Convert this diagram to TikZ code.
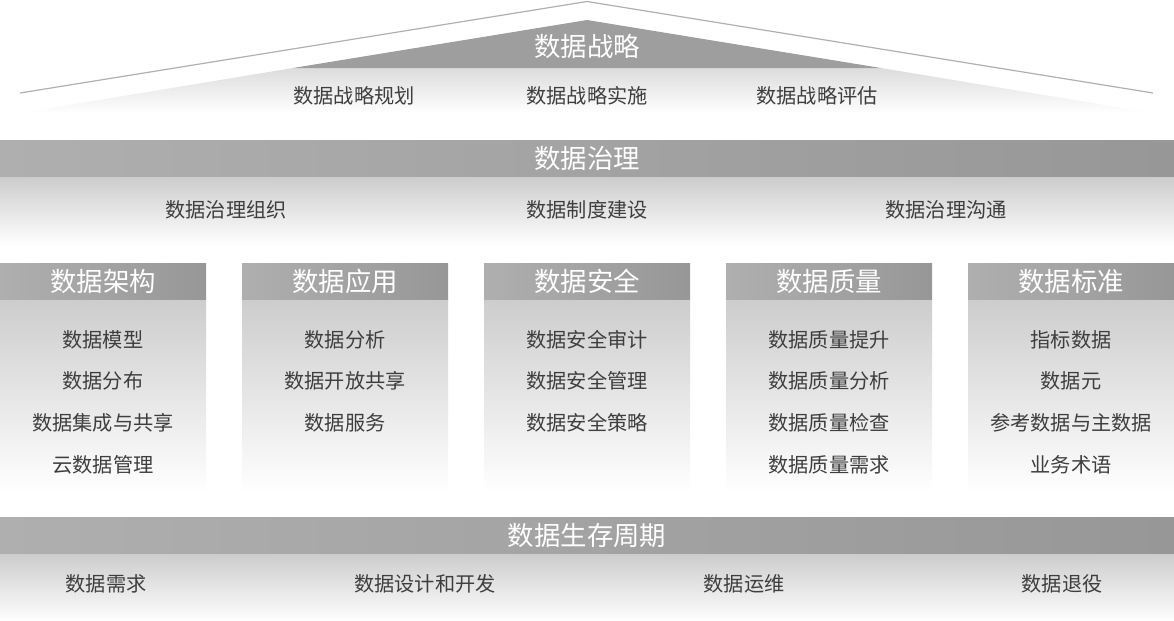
\documentclass[tikz,border=0pt]{standalone}
\usepackage{fontspec}
\setmainfont{Noto Sans CJK SC}
\usepackage{xcolor}
\usetikzlibrary{positioning}
\definecolor{barL}{HTML}{AFAFAF}
\definecolor{barR}{HTML}{979797}
\definecolor{roofgray}{HTML}{9E9E9E}
\definecolor{fadetop}{HTML}{CDCDCD}
\definecolor{rooffade}{HTML}{DCDCDC}
\definecolor{itemgray}{HTML}{3E3E3E}
\definecolor{linegray}{HTML}{B0B0B0}

\tikzset{
  headbar/.style={rectangle, inner sep=0pt, minimum height=18.5pt, left color=barL, right color=barR, text=white, font=\fontsize{13.2}{15}\selectfont},
  fadebox/.style={rectangle, inner sep=0pt, top color=fadetop, bottom color=white},
  itemtext/.style={text=itemgray, inner sep=0pt, font=\fontsize{10.1}{12}\selectfont},
}

\begin{document}
\begin{tikzpicture}[x=0.5pt, y=-0.5pt]
\useasboundingbox (0,0) rectangle (1174,621);
% roof
\draw[linegray, line width=0.6pt] (20,93) -- (587,1.5) -- (1153,93);
\shade[top color=rooffade, bottom color=white] (293,68) -- (881,68) -- (1153,113) -- (20,113) -- cycle;
\fill[roofgray] (293,68) -- (587,20) -- (881,68) -- cycle;
\node[text=white, inner sep=0pt, font=\fontsize{13.2}{15}\selectfont] (strategy) at (587,46) {数据战略};
\node[itemtext] (plan) at (354,96) {数据战略规划};
\node[itemtext] (impl) at (587,96) {数据战略实施};
\node[itemtext] (eval) at (817,96) {数据战略评估};

% governance
\node[headbar, minimum width=587pt] (gov) at (587,158.5) {数据治理};
\node[fadebox, minimum width=587pt, minimum height=34pt, below=0pt of gov] (govbody) {};
\node[itemtext] (org) at (226,210) {数据治理组织};
\node[itemtext] (rule) at (587,210) {数据制度建设};
\node[itemtext] (comm) at (946,210) {数据治理沟通};

% columns
\node[headbar, minimum width=103pt] (arch) at (103,281.5) {数据架构};
\node[fadebox, minimum width=103pt, minimum height=96pt, below=0pt of arch] (archbody) {};
\node[itemtext] (arch1) at (103,340) {数据模型};
\node[itemtext] (arch2) at (103,381) {数据分布};
\node[itemtext] (arch3) at (103,423) {数据集成与共享};
\node[itemtext] (arch4) at (103,465) {云数据管理};

\node[headbar, minimum width=103pt] (app) at (345,281.5) {数据应用};
\node[fadebox, minimum width=103pt, minimum height=96pt, below=0pt of app] (appbody) {};
\node[itemtext] (app1) at (345,340) {数据分析};
\node[itemtext] (app2) at (345,381) {数据开放共享};
\node[itemtext] (app3) at (345,423) {数据服务};

\node[headbar, minimum width=103pt] (sec) at (587,281.5) {数据安全};
\node[fadebox, minimum width=103pt, minimum height=96pt, below=0pt of sec] (secbody) {};
\node[itemtext] (sec1) at (587,340) {数据安全审计};
\node[itemtext] (sec2) at (587,381) {数据安全管理};
\node[itemtext] (sec3) at (587,423) {数据安全策略};

\node[headbar, minimum width=103pt] (qual) at (829,281.5) {数据质量};
\node[fadebox, minimum width=103pt, minimum height=96pt, below=0pt of qual] (qualbody) {};
\node[itemtext] (qual1) at (829,340) {数据质量提升};
\node[itemtext] (qual2) at (829,381) {数据质量分析};
\node[itemtext] (qual3) at (829,423) {数据质量检查};
\node[itemtext] (qual4) at (829,465) {数据质量需求};

\node[headbar, minimum width=103pt] (std) at (1071,281.5) {数据标准};
\node[fadebox, minimum width=103pt, minimum height=96pt, below=0pt of std] (stdbody) {};
\node[itemtext] (std1) at (1071,340) {指标数据};
\node[itemtext] (std2) at (1071,381) {数据元};
\node[itemtext] (std3) at (1071,423) {参考数据与主数据};
\node[itemtext] (std4) at (1071,465) {业务术语};

% lifecycle
\node[headbar, minimum width=587pt] (life) at (587,535.5) {数据生存周期};
\node[fadebox, minimum width=587pt, minimum height=33.5pt, below=0pt of life] (lifebody) {};
\node[itemtext] (need) at (106,584) {数据需求};
\node[itemtext] (dev) at (425,584) {数据设计和开发};
\node[itemtext] (ops) at (744,584) {数据运维};
\node[itemtext] (retire) at (1062,584) {数据退役};
\end{tikzpicture}
\end{document}
